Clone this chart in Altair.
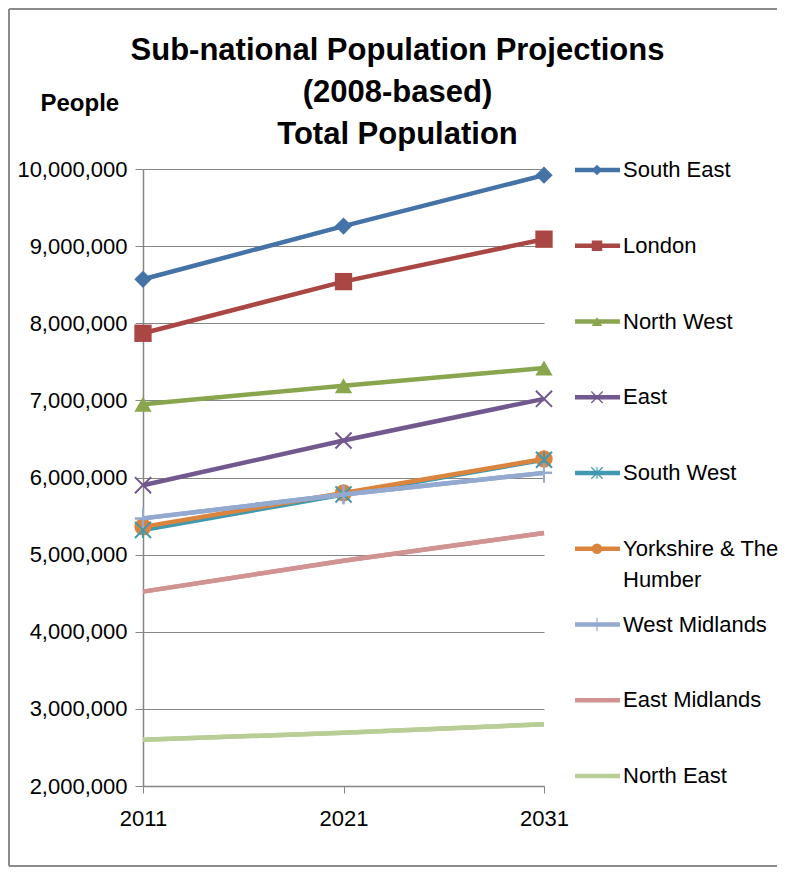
import altair as alt
import pandas as pd

years = ["2011", "2021", "2031"]
regions = ["South East", "London", "North West", "East", "South West",
           "Yorkshire & The Humber", "West Midlands", "East Midlands", "North East"]
legend_labels = ["South East", "London", "North West", "East", "South West",
                 "Yorkshire & The\nHumber", "West Midlands", "East Midlands", "North East"]
colors = ["#4572A7", "#AA4643", "#89A54E", "#71588F", "#4198AF",
          "#DB843D", "#93A9CF", "#D19392", "#B9CD96"]

south_east = [8570000, 9260000, 9920000]
london = [7870000, 8540000, 9090000]
north_west = [6950000, 7190000, 7420000]
east = [5900000, 6480000, 7020000]
south_west = [5320000, 5780000, 6230000]
yorkshire = [5360000, 5800000, 6240000]
west_midlands = [5470000, 5780000, 6060000]
east_midlands = [4520000, 4920000, 5280000]
north_east = [2600000, 2690000, 2800000]
series = [south_east, london, north_west, east, south_west, yorkshire,
          west_midlands, east_midlands, north_east]

y_ticks = [2000000, 3000000, 4000000, 5000000, 6000000, 7000000, 8000000, 9000000, 10000000]

filled_regions = ["South East", "London", "North West", "Yorkshire & The Humber"]
filled_shapes = ["diamond", "square", "triangle-up", "circle"]
stroke_regions = ["East", "South West", "West Midlands"]
stroke_shapes = ["M-1,-1L1,1M-1,1L1,-1",
                 "M-1,-1L1,1M-1,1L1,-1M0,-1L0,1",
                 "M-1,0L1,0M0,-1.2L0,1.2"]
top_regions = ["West Midlands", "East Midlands", "North East"]

rows = []
for r, vals in zip(regions, series):
    for yr, v in zip(years, vals):
        rows.append({"region": r, "year": yr, "value": v})
df = pd.DataFrame(rows)
leg = pd.DataFrame({"region": regions, "label": legend_labels})

FONT = "Liberation Sans"
color_scale = alt.Scale(domain=regions, range=colors)
shape_scale = alt.Scale(domain=filled_regions + stroke_regions,
                        range=filled_shapes + stroke_shapes)

x_enc = alt.X("year:O", scale=alt.Scale(type="point", padding=0),
              axis=alt.Axis(title=None, labelAngle=0, tickSize=7, labelPadding=15,
                            grid=False))
y_enc = alt.Y("value:Q", scale=alt.Scale(domain=[2000000, 10000000], nice=False),
              axis=alt.Axis(values=y_ticks, format=",d", tickSize=8, labelPadding=8,
                            title="People", titleAngle=0, titleX=-103, titleY=-66,
                            titleAlign="left", titleBaseline="middle",
                            titleFontSize=24, titleFontWeight="bold"))
col = alt.Color("region:N", scale=color_scale, legend=None)
shp = alt.Shape("region:N", scale=shape_scale, legend=None)

base = alt.Chart(df)
lines = base.mark_line(strokeWidth=4.5).encode(x=x_enc, y=y_enc, color=col, detail="region:N")
pts_filled = base.transform_filter(
    alt.FieldOneOfPredicate(field="region", oneOf=filled_regions)
).mark_point(filled=True, size=300, opacity=1).encode(x=x_enc, y=y_enc, color=col, shape=shp)
pts_stroke = base.transform_filter(
    alt.FieldOneOfPredicate(field="region", oneOf=stroke_regions)
).mark_point(filled=False, size=260, strokeWidth=2, opacity=1).encode(
    x=x_enc, y=y_enc, color=col, shape=shp)
# later series are drawn over earlier ones, as in the original
top_lines = base.transform_filter(
    alt.FieldOneOfPredicate(field="region", oneOf=top_regions)
).mark_line(strokeWidth=4.5).encode(x=x_enc, y=y_enc, color=col, detail="region:N")
top_pts = base.transform_filter(
    alt.FieldEqualPredicate(field="region", equal="West Midlands")
).mark_point(filled=False, size=260, strokeWidth=2, opacity=1).encode(
    x=x_enc, y=y_enc, color=col, shape=shp)
data_layer = alt.layer(lines, pts_filled, pts_stroke, top_lines, top_pts)

leg_y = alt.Y("region:N", scale=alt.Scale(type="point", domain=regions, range=[1, 607], padding=0),
              axis=None)
lbase = alt.Chart(leg)
leg_lines = lbase.mark_rule(strokeWidth=4.5).encode(
    x=alt.value(432), x2=alt.value(477), y=leg_y, color=col)
leg_filled = lbase.transform_filter(
    alt.FieldOneOfPredicate(field="region", oneOf=filled_regions)
).mark_point(filled=True, size=110, opacity=1).encode(
    x=alt.value(454), y=leg_y, color=col, shape=shp)
leg_stroke = lbase.transform_filter(
    alt.FieldOneOfPredicate(field="region", oneOf=stroke_regions)
).mark_point(filled=False, size=130, strokeWidth=1.2, opacity=1).encode(
    x=alt.value(454), y=leg_y, color=col, shape=shp)
leg_text = lbase.mark_text(align="left", baseline="top", dy=-10, font=FONT,
                           fontSize=22, lineBreak="\n", lineHeight=31,
                           color="black").encode(
    x=alt.value(480), y=leg_y, text="label:N")
legend_layer = alt.layer(leg_lines, leg_filled, leg_stroke, leg_text)

fdata = alt.Chart(pd.DataFrame({"f": [0]}))
frame_top = fdata.mark_rule(stroke="#8c8c8c", strokeWidth=2).encode(
    x=alt.value(-134), x2=alt.value(634), y=alt.value(-160))
frame_left = fdata.mark_rule(stroke="#8c8c8c", strokeWidth=2).encode(
    x=alt.value(-134), y=alt.value(-160), y2=alt.value(697))
frame_bottom = fdata.mark_rule(stroke="#8c8c8c", strokeWidth=2).encode(
    x=alt.value(-134), x2=alt.value(634), y=alt.value(697))

chart = alt.layer(frame_top, frame_left, frame_bottom, data_layer, legend_layer).resolve_scale(
    y="independent"
).properties(
    width=401, height=617,
    padding={"left": 135, "top": 161, "right": 234, "bottom": 82},
    autosize=alt.AutoSizeParams(type="none"),
    title=alt.TitleParams(
        text=["Sub-national Population Projections", "(2008-based)", "Total Population"],
        font=FONT, fontSize=31, fontWeight="bold", color="black",
        anchor="middle", frame="group", dx=54, offset=-143, lineHeight=42,
    ),
).configure_view(stroke=None).configure_axis(
    labelFont=FONT, labelFontSize=22, labelColor="black",
    titleFont=FONT, titleColor="black",
    domainColor="#868686", tickColor="#868686", gridColor="#868686",
    domainWidth=1.5, gridWidth=1.2,
)

chart.save("out.html", embed_options={"renderer": "svg", "actions": False})
